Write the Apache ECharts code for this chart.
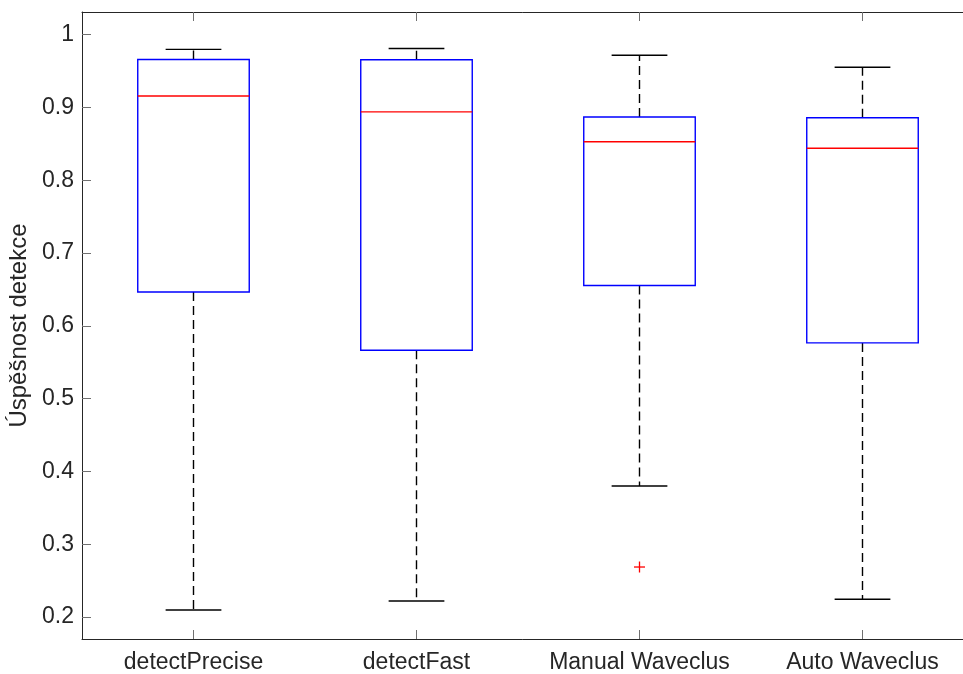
<!DOCTYPE html>
<html>
<head>
<meta charset="utf-8">
<title>Úspěšnost detekce</title>
<script src="https://cdn.jsdelivr.net/npm/echarts@6/dist/echarts.min.js"></script>
<style>
  html, body { margin: 0; padding: 0; background: #ffffff; }
  #chart { width: 963px; height: 674px; }
</style>
</head>
<body>
<div id="chart"></div>
<script>
// Detection methods on the x axis
const categories = ['detectPrecise', 'detectFast', 'Manual Waveclus', 'Auto Waveclus'];

// Box statistics per method
const lowerWhisker = [0.2096, 0.2220, 0.3800, 0.2245];
const quartile1    = [0.6465, 0.5666, 0.6554, 0.5766];
const median       = [0.9157, 0.8940, 0.8530, 0.8440];
const quartile3    = [0.9660, 0.9656, 0.8870, 0.8860];
const upperWhisker = [0.9798, 0.9810, 0.9718, 0.9553];

// Outliers: [category index, value]
const outliers = [[2, 0.2687]];

// Visible range of the y axis
const yMin = 0.1698;
const yMax = 1.0312;

const font = "'Liberation Sans', Arial, Helvetica, sans-serif";
const textColor = '#262626';
const axisColor = '#262626';
const tickColor = '#707070';

const boxData = categories.map((c, i) => [
  i, lowerWhisker[i], quartile1[i], median[i], quartile3[i], upperWhisker[i]
]);

function renderBox(params, api) {
  const idx = api.value(0);
  const band = api.size([1, 0])[0];
  const halfBox = band * 0.25;
  const halfCap = band * 0.125;
  const pLow = api.coord([idx, api.value(1)]);
  const pQ1 = api.coord([idx, api.value(2)]);
  const pMed = api.coord([idx, api.value(3)]);
  const pQ3 = api.coord([idx, api.value(4)]);
  const pHigh = api.coord([idx, api.value(5)]);
  const x = pMed[0];
  const lw = 1.4;
  const dash = { stroke: '#000000', lineWidth: lw, lineDash: [9, 5] };
  const solidBlack = { stroke: '#000000', lineWidth: lw };
  return {
    type: 'group',
    children: [
      // whiskers, dashed, running outward from the box
      { type: 'line', shape: { x1: x, y1: pQ3[1], x2: x, y2: pHigh[1] }, style: dash },
      { type: 'line', shape: { x1: x, y1: pQ1[1], x2: x, y2: pLow[1] }, style: dash },
      // whisker caps
      { type: 'line', shape: { x1: x - halfCap, y1: pHigh[1], x2: x + halfCap, y2: pHigh[1] }, style: solidBlack },
      { type: 'line', shape: { x1: x - halfCap, y1: pLow[1], x2: x + halfCap, y2: pLow[1] }, style: solidBlack },
      // box
      { type: 'rect', shape: { x: x - halfBox, y: pQ3[1], width: 2 * halfBox, height: pQ1[1] - pQ3[1] },
        style: { fill: 'none', stroke: '#0000ff', lineWidth: lw } },
      // median
      { type: 'line', shape: { x1: x - halfBox, y1: pMed[1], x2: x + halfBox, y2: pMed[1] },
        style: { stroke: '#ff0000', lineWidth: lw } }
    ]
  };
}

function renderOutlier(params, api) {
  const p = api.coord([api.value(0), api.value(1)]);
  const r = 5.5;
  const st = { stroke: '#ff0000', lineWidth: 1.3 };
  return {
    type: 'group',
    children: [
      { type: 'line', shape: { x1: p[0] - r, y1: p[1], x2: p[0] + r, y2: p[1] }, style: st },
      { type: 'line', shape: { x1: p[0], y1: p[1] - r, x2: p[0], y2: p[1] + r }, style: st }
    ]
  };
}

const chart = echarts.init(document.getElementById('chart'), null, { renderer: 'canvas' });

chart.setOption({
  backgroundColor: '#ffffff',
  animation: false,
  // the plot box runs past the right edge of the canvas
  grid: { left: 82, top: 12, width: 892, height: 627, containLabel: false, outerBoundsMode: 'none' },
  xAxis: [
    {
      type: 'category',
      data: categories,
      position: 'bottom',
      boundaryGap: true,
      axisLine: { show: true, lineStyle: { color: axisColor, width: 1 } },
      axisTick: { show: true, inside: true, length: 9, alignWithLabel: true, lineStyle: { color: tickColor } },
      axisLabel: { color: textColor, fontSize: 23, fontFamily: font, margin: 12, interval: 0, hideOverlap: false },
      splitLine: { show: false }
    },
    {
      type: 'category',
      data: categories,
      position: 'top',
      boundaryGap: true,
      axisLine: { show: true, lineStyle: { color: axisColor, width: 1 } },
      axisTick: { show: true, inside: true, length: 9, alignWithLabel: true, lineStyle: { color: tickColor } },
      axisLabel: { show: false },
      splitLine: { show: false }
    }
  ],
  yAxis: {
    type: 'value',
    min: yMin,
    max: yMax,
    splitNumber: 9,
    name: 'Úspěšnost detekce',
    nameLocation: 'middle',
    nameGap: 47,
    nameRotate: 90,
    nameTextStyle: { color: textColor, fontSize: 24, fontFamily: font },
    axisLine: { show: true, lineStyle: { color: axisColor, width: 1 } },
    axisTick: { show: true, inside: true, length: 9, lineStyle: { color: tickColor } },
    axisLabel: {
      color: textColor, fontSize: 23, fontFamily: font, margin: 8,
      showMinLabel: false, showMaxLabel: false,
      formatter: v => String(Math.round(v * 10) / 10)
    },
    splitLine: { show: false }
  },
  series: [
    {
      type: 'custom',
      renderItem: renderBox,
      data: boxData,
      encode: { x: 0, y: [1, 2, 3, 4, 5] },
      z: 3
    },
    {
      type: 'custom',
      renderItem: renderOutlier,
      data: outliers,
      encode: { x: 0, y: 1 },
      z: 4
    }
  ]
});
</script>
</body>
</html>
